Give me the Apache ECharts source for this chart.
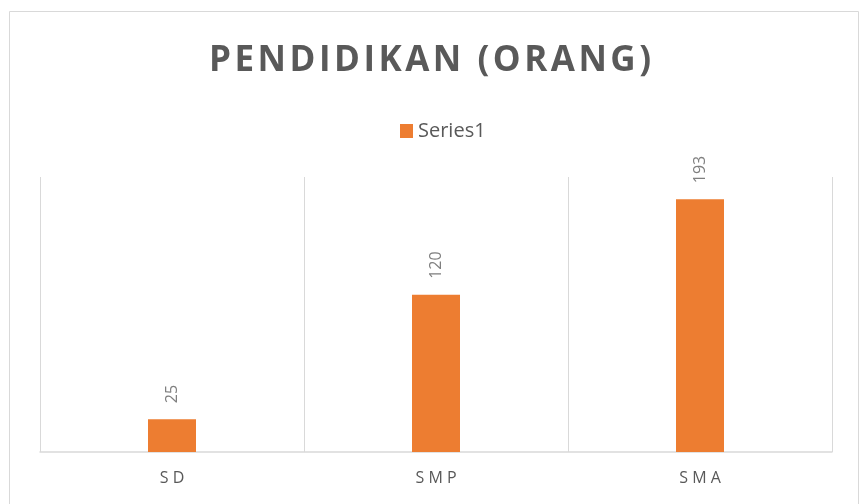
<!DOCTYPE html>
<html>
	<head>
		<meta charset="utf-8">
		<title></title>
		<script src="https://cdn.jsdelivr.net/npm/echarts@6/dist/echarts.min.js"></script>
		<style>
			html, body { margin: 0; padding: 0; background: #fff; }
			#main { width: 860px; height: 504px; }
		</style>
	</head>
	<body>
		<div id="main"></div>
		<script>
			var categories = ['SD', 'SMP', 'SMA'];
			var values = [25, 120, 193];
			var seriesName = 'Series1';
			var titleText = 'PENDIDIKAN (ORANG)';

			// spread letters out a bit, like the original chart
			function spaced(s, sp) {
				return s.split('').join(sp);
			}

			var myChart = echarts.init(document.getElementById('main'));

			var option = {
				animation: false,
				title: {
					text: spaced(titleText, '\u200A'),
					left: 'center',
					top: 39,
					textStyle: {
						fontFamily: 'Open Sans',
						fontWeight: 'bold',
						fontSize: 35,
						color: '#595959'
					}
				},
				legend: {
					data: [seriesName],
					top: 116,
					left: 395,
					itemWidth: 13,
					itemHeight: 14,
					itemGap: 6,
					icon: 'rect',
					textStyle: {
						fontFamily: 'Open Sans',
						fontSize: 20,
						color: '#595959'
					}
				},
				graphic: [{
					type: 'rect',
					shape: { x: 9.5, y: 11.5, width: 849, height: 500 },
					style: { fill: 'none', stroke: '#d9d9d9', lineWidth: 1 },
					silent: true
				}],
				grid: {
					left: 40,
					right: 28,
					top: 177,
					bottom: 52,
					containLabel: false
				},
				xAxis: {
					type: 'category',
					data: categories,
					axisTick: { show: false },
					axisLine: { lineStyle: { color: '#d9d9d9', width: 1.5 } },
					splitLine: { show: true, lineStyle: { color: '#d9d9d9', width: 1 } },
					axisLabel: {
						margin: 18,
						fontFamily: 'Open Sans',
						fontSize: 16,
						color: '#595959',
						formatter: function (v) { return spaced(v, ' '); }
					}
				},
				yAxis: {
					type: 'value',
					min: 0,
					max: 210,
					show: false,
					splitLine: { show: false }
				},
				series: [{
					name: seriesName,
					type: 'bar',
					data: values,
					barWidth: 48,
					itemStyle: { color: '#ed7d31' },
					label: {
						show: true,
						position: 'top',
						rotate: 90,
						align: 'left',
						verticalAlign: 'middle',
						distance: 16,
						fontFamily: 'Open Sans',
						fontSize: 16,
						color: '#7f7f7f'
					}
				}]
			};

			myChart.setOption(option);
		</script>
	</body>
</html>
